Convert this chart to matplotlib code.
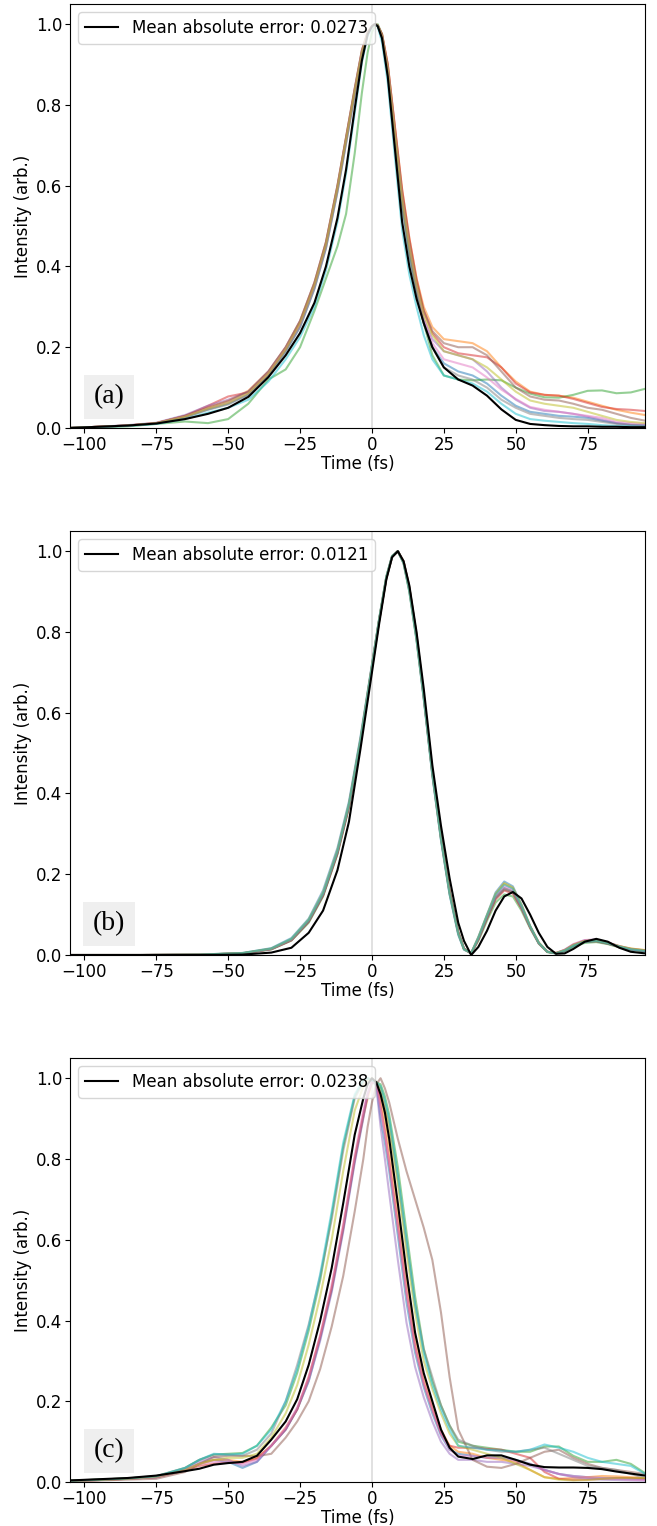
import matplotlib
matplotlib.use('Agg')
import matplotlib.pyplot as plt

plt.rc('font', size=12)

# ---- panel (a) ----
time_a = [-105, -95, -85, -75, -65, -57, -50, -43, -36, -30, -25, -20, -16,
          -12, -9, -6, -3.5, -1.5, 0, 1, 2, 3.5, 5.5, 8, 10.5, 13, 15.5,
          18, 21, 25, 30, 35, 40, 45, 50, 55, 60, 65, 70, 75, 80, 85, 90, 95]
black_a = [0.0, .003, .006, .011, .022, .035, .05, .077, .126, .18, .235, .31, .40,
           .52, .64, .79, .91, .975, .995, 1.0, .995, .965, .87, .69, .51, .40, .32,
           .26, .20, .15, .12, .105, .08, .046, .02, .01, .007, .005, .004, .004, .003, .003, .002, .002]
blue_a = [0, .003, .006, .011, .027, .046, .06, .083, .13, .19, .25, .345, .445,
          .585, .705, .825, .925, .975, .993, 1.0, .996, .968, .88, .715, .55, .43, .335,
          .26, .2, .16, .14, .13, .11, .08, .055, .04, .035, .03, .028, .025, .018, .012, .008, .007]
orange_a = [0, .003, .006, .012, .03, .052, .068, .092, .14, .2, .265, .36, .46,
            .6, .72, .84, .935, .98, .995, 1.0, .997, .975, .9, .745, .59, .47, .37,
            .3, .25, .22, .215, .21, .19, .15, .115, .09, .082, .08, .075, .065, .055, .045, .038, .032]
green_a = [0, .002, .004, .01, .016, .012, .022, .06, .12, .145, .2, .29, .37,
           .45, .53, .68, .83, .93, .98, .995, 1.0, .975, .885, .725, .56, .44, .34,
           .26, .18, .13, .12, .118, .12, .118, .1, .085, .076, .075, .082, .092, .093, .086, .088, .097]
red_a = [0, .003, .006, .012, .03, .055, .078, .088, .135, .195, .26, .355, .455,
         .595, .715, .835, .93, .978, .995, 1.0, .997, .975, .9, .745, .59, .47, .37,
         .29, .235, .2, .185, .18, .175, .15, .11, .088, .082, .08, .072, .062, .052, .047, .045, .042]
purple_a = [0, .003, .007, .013, .032, .055, .07, .09, .14, .2, .265, .36, .46,
            .6, .72, .84, .935, .98, .995, 1.0, .996, .97, .89, .73, .57, .45, .35,
            .27, .22, .19, .18, .17, .14, .1, .07, .05, .042, .04, .035, .028, .02, .012, .008, .006]
brown_a = [0, .003, .006, .012, .03, .05, .066, .09, .14, .2, .265, .36, .46,
           .6, .72, .84, .935, .98, .995, 1.0, .997, .975, .9, .74, .58, .46, .36,
           .29, .24, .21, .2, .2, .18, .14, .1, .078, .07, .068, .06, .05, .045, .035, .025, .018]
pink_a = [0, .003, .006, .012, .028, .048, .062, .085, .135, .195, .255, .35, .45,
          .59, .71, .83, .93, .977, .994, 1.0, .996, .97, .89, .73, .57, .45, .35,
          .27, .21, .17, .16, .15, .125, .095, .072, .052, .045, .04, .035, .03, .025, .015, .012, .01]
gray_a = [0, .003, .006, .011, .026, .045, .058, .082, .13, .19, .25, .345, .445,
          .585, .705, .825, .925, .975, .993, 1.0, .996, .968, .88, .715, .55, .43, .335,
          .26, .2, .15, .13, .12, .1, .07, .05, .035, .03, .025, .022, .02, .015, .01, .007, .005]
olive_a = [0, .003, .006, .012, .028, .048, .062, .086, .135, .195, .26, .355, .455,
           .595, .715, .835, .93, .978, .995, 1.0, .996, .97, .89, .73, .57, .45, .355,
           .28, .23, .19, .18, .17, .15, .12, .09, .068, .06, .055, .05, .04, .03, .02, .015, .012]
cyan_a = [0, .002, .005, .01, .022, .038, .05, .07, .115, .17, .225, .3, .39,
          .51, .63, .78, .905, .97, .993, 1.0, .994, .955, .855, .67, .49, .38, .3,
          .23, .17, .13, .12, .11, .09, .06, .035, .022, .018, .015, .012, .01, .007, .005, .004, .003]

# ---- panel (b) ----
time_b = [-105, -80, -60, -45, -35, -28, -22, -17, -12, -8, -4, 0,
          2.5, 5, 7, 9, 11, 13, 15.5,
          18, 21, 24, 27, 30, 32, 34.5, 37, 40, 43, 46, 49, 52, 55, 58, 61, 64, 67, 70, 74, 78, 82, 86, 90, 95]
black_b = [0, 0, 0, .001, .006, .018, .055, .11, .21, .33, .51, .70,
           .82, .93, .985, 1.0, .975, .915, .8,
           .66, .47, .32, .19, .08, .035, .0, .02, .06, .11, .145, .156, .14, .1, .055, .02, .003, .004, .015, .033, .04, .033, .018, .008, .004]
blue_b = [0, 0, .001, .005, .017, .042, .09, .16, .265, .38, .54, .72,
          .832, .937, .988, 1.0, .97, .9, .78,
          .635, .445, .285, .15, .05, .013, .005, .045, .1, .155, .182, .17, .125, .072, .03, .008, .004, .01, .022, .032, .034, .028, .02, .014, .01]
orange_b = [0, 0, .001, .004, .015, .038, .085, .15, .255, .37, .53, .715,
            .83, .935, .987, 1.0, .972, .905, .785,
            .64, .45, .29, .155, .055, .015, .004, .042, .097, .15, .176, .165, .122, .07, .03, .008, .005, .012, .025, .035, .036, .03, .022, .016, .012]
green_b = [0, 0, .001, .004, .014, .036, .08, .145, .25, .365, .525, .71,
           .828, .933, .986, 1.0, .975, .91, .792,
           .645, .455, .295, .16, .058, .016, .004, .035, .085, .13, .15, .145, .11, .066, .028, .007, .004, .01, .02, .03, .032, .027, .019, .013, .009]
red_b = [0, 0, .001, .004, .015, .037, .083, .148, .252, .368, .528, .713,
         .828, .933, .986, 1.0, .975, .91, .792,
         .642, .452, .292, .157, .056, .015, .004, .038, .09, .138, .16, .152, .115, .068, .029, .008, .004, .011, .024, .033, .034, .028, .02, .014, .01]
purple_b = [0, 0, .001, .004, .015, .038, .085, .15, .256, .372, .532, .716,
            .83, .935, .987, 1.0, .972, .905, .785,
            .64, .45, .29, .155, .055, .015, .004, .04, .093, .143, .166, .158, .118, .07, .03, .008, .005, .013, .026, .037, .038, .031, .022, .015, .011]
brown_b = [0, 0, .001, .004, .014, .036, .082, .147, .25, .366, .527, .712,
           .828, .933, .986, 1.0, .975, .91, .792,
           .643, .453, .293, .158, .057, .016, .004, .039, .091, .14, .162, .155, .117, .069, .03, .008, .005, .012, .025, .035, .037, .03, .021, .015, .011]
pink_b = [0, 0, .001, .004, .015, .038, .086, .152, .258, .373, .533, .717,
          .83, .935, .987, 1.0, .972, .905, .785,
          .638, .448, .288, .153, .054, .015, .004, .042, .096, .147, .17, .161, .12, .07, .03, .008, .005, .013, .027, .037, .038, .031, .022, .015, .011]
gray_b = [0, 0, .001, .004, .015, .038, .084, .149, .254, .37, .53, .715,
          .83, .935, .987, 1.0, .972, .905, .785,
          .641, .451, .291, .156, .056, .015, .004, .04, .093, .143, .165, .157, .118, .07, .03, .008, .004, .011, .023, .033, .035, .029, .021, .014, .01]
olive_b = [0, 0, .001, .005, .016, .04, .088, .155, .26, .375, .535, .718,
           .832, .937, .988, 1.0, .97, .9, .78,
           .637, .447, .287, .152, .053, .014, .005, .044, .099, .152, .178, .167, .124, .072, .031, .008, .005, .012, .025, .035, .036, .03, .022, .016, .012]
cyan_b = [0, 0, .001, .005, .016, .04, .087, .153, .258, .374, .534, .717,
          .832, .937, .988, 1.0, .97, .9, .78,
          .635, .445, .285, .15, .052, .014, .005, .043, .098, .15, .174, .164, .122, .071, .03, .008, .004, .011, .023, .033, .035, .029, .021, .014, .01]

# ---- panel (c) ----
time_c = [-105, -95, -85, -75, -65, -60, -55, -50, -45, -40, -35,
          -30, -26, -22, -18, -14, -10, -6, -3, -1.5, 0,
          1.5, 3, 4.5, 6, 9, 12, 15, 18, 21, 24, 27,
          30, 35, 40, 45, 50, 55, 60, 65, 70, 75, 80, 85, 90, 95]
black_c = [.004, .007, .01, .016, .027, .033, .043, .047, .05, .065, .105,
           .15, .205, .29, .4, .53, .69, .86, .95, .985, 1.0,
           .99, .96, .915, .85, .69, .52, .37, .27, .2, .13, .085,
           .063, .057, .066, .066, .055, .043, .037, .036, .036, .035, .032, .026, .021, .016]
blue_c = [.003, .005, .008, .012, .03, .045, .055, .05, .035, .05, .09,
          .13, .18, .25, .355, .475, .625, .795, .905, .96, .99,
          .985, .9, .84, .77, .61, .445, .32, .235, .17, .115, .08,
          .07, .065, .06, .06, .055, .045, .03, .02, .015, .012, .01, .009, .008, .008]
orange_c = [.003, .006, .009, .013, .03, .045, .055, .055, .05, .06, .09,
            .135, .18, .255, .36, .48, .63, .8, .905, .95, .99,
            .99, .95, .89, .82, .66, .5, .35, .26, .19, .13, .09,
            .075, .07, .06, .055, .05, .03, .012, .008, .01, .012, .015, .014, .012, .01]
green_c = [.003, .006, .009, .014, .035, .055, .068, .07, .072, .09, .135,
           .19, .27, .375, .5, .66, .83, .955, .995, 1.0, .995,
           .99, .985, .955, .91, .78, .62, .46, .33, .25, .19, .14,
           .1, .09, .085, .08, .075, .075, .088, .088, .065, .05, .05, .055, .045, .022]
red_c = [.003, .005, .008, .012, .028, .04, .045, .048, .048, .058, .09,
         .13, .18, .26, .36, .48, .63, .8, .91, .96, .99,
         .99, .93, .865, .79, .635, .47, .335, .245, .18, .12, .09,
         .085, .085, .082, .08, .07, .06, .025, .008, .005, .006, .008, .01, .01, .008]
purple_c = [.003, .005, .008, .012, .03, .05, .062, .055, .04, .05, .09,
            .13, .18, .25, .35, .47, .62, .79, .9, .96, .995,
            .98, .88, .8, .715, .55, .395, .285, .21, .15, .1, .07,
            .055, .055, .05, .05, .045, .04, .03, .02, .012, .008, .006, .005, .004, .003]
brown_c = [.002, .004, .006, .008, .025, .045, .062, .065, .065, .064, .07,
           .11, .15, .2, .28, .385, .51, .67, .8, .88, .94,
           .985, 1.0, .975, .94, .85, .77, .7, .63, .55, .42, .26,
           .13, .055, .038, .035, .045, .06, .075, .08, .06, .045, .035, .03, .025, .02]
pink_c = [.003, .005, .008, .012, .03, .045, .05, .05, .045, .055, .09,
          .135, .185, .26, .365, .49, .64, .81, .92, .965, .99,
          .99, .925, .86, .79, .635, .47, .335, .245, .18, .12, .08,
          .065, .065, .06, .06, .052, .045, .03, .02, .015, .012, .01, .008, .006, .005]
gray_c = [.004, .006, .009, .015, .035, .055, .068, .068, .065, .08, .12,
          .2, .29, .39, .51, .65, .82, .95, .99, 1.0, .995,
          .99, .975, .935, .89, .75, .59, .44, .33, .26, .19, .14,
          .105, .09, .08, .075, .075, .08, .085, .07, .055, .04, .035, .03, .02, .01]
olive_c = [.003, .005, .008, .013, .03, .045, .055, .06, .06, .07, .11,
           .17, .24, .34, .46, .6, .77, .92, .98, .995, 1.0,
           .99, .975, .93, .88, .74, .57, .42, .3, .23, .17, .12,
           .09, .08, .07, .06, .045, .03, .012, .006, .004, .005, .008, .01, .01, .01]
cyan_c = [.003, .006, .009, .014, .035, .055, .07, .068, .07, .09, .13,
          .2, .28, .385, .515, .67, .84, .96, .995, 1.0, .995,
          .99, .98, .945, .9, .76, .6, .44, .32, .24, .18, .13,
          .09, .085, .08, .078, .075, .08, .093, .085, .075, .06, .05, .045, .04, .02]

errors = ['0.0273', '0.0121', '0.0238']
panel_labels = ['(a)', '(b)', '(c)']

panels = [
    (time_a, black_a, [blue_a, orange_a, green_a, red_a, purple_a, brown_a, pink_a, gray_a, olive_a, cyan_a]),
    (time_b, black_b, [blue_b, orange_b, green_b, red_b, purple_b, brown_b, pink_b, gray_b, olive_b, cyan_b]),
    (time_c, black_c, [blue_c, orange_c, green_c, red_c, purple_c, brown_c, pink_c, gray_c, olive_c, cyan_c]),
]
colors = ['tab:blue', 'tab:orange', 'tab:green', 'tab:red', 'tab:purple',
          'tab:brown', 'tab:pink', 'tab:gray', 'tab:olive', 'tab:cyan']

fig, axes = plt.subplots(nrows=3, figsize=(6.57, 15.26), dpi=100)
fig.subplots_adjust(left=0.1065, right=0.982, top=0.9974, bottom=0.0288, hspace=0.243)

for ax, (t, black, others), err, lab in zip(axes, panels, errors, panel_labels):
    ax.axvline(0, color='lightgray', lw=1.2, alpha=0.8, zorder=0)
    for y, c in zip(others, colors):
        ax.plot(t, y, color=c, alpha=0.5, lw=1.5)
    ax.plot(t, black, color='k', lw=1.5, label='Mean absolute error: ' + err)
    ax.set_xlim(-105, 95)
    ax.set_ylim(0, 1.05)
    ax.tick_params(pad=2)
    ax.set_xlabel('Time (fs)', labelpad=1)
    ax.set_ylabel('Intensity (arb.)', labelpad=3)
    ax.legend(loc='upper left')
    ax.text(0.068, 0.073, lab, transform=ax.transAxes, ha='center', va='center',
            fontsize=20, family='Liberation Serif',
            bbox=dict(boxstyle='square,pad=0.35', facecolor='#efefef', edgecolor='none'))

plt.savefig('out.png', dpi=100)
